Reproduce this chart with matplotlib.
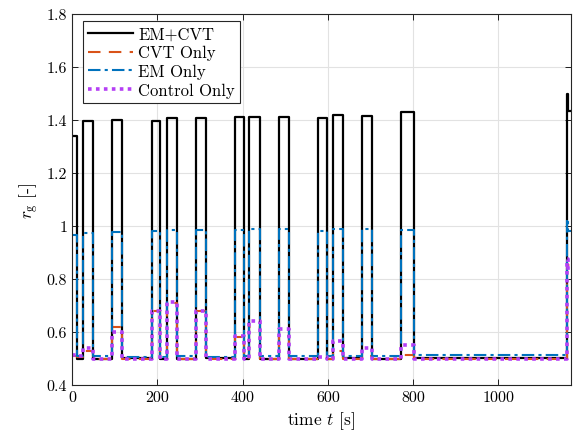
import numpy as np
import matplotlib
matplotlib.use("Agg")
import matplotlib.pyplot as plt

# ---- data ----
pulse_start = [0, 26, 94, 187, 222, 290, 382, 416, 485, 577, 612, 681, 772, 1160]
pulse_end   = [11.5, 49, 117, 207, 245, 313, 403, 440, 508, 598, 635, 704, 801, 1172]

em_cvt_high   = [1.34, 1.397, 1.40, 1.395, 1.406, 1.409, 1.413, 1.41, 1.413, 1.409, 1.418, 1.415, 1.431, 1.435]
em_only_high  = [0.967, 0.975, 0.977, 0.98, 0.984, 0.986, 0.985, 0.99, 0.99, 0.98, 0.987, 0.987, 0.986, 0.982]
cvt_only_high = [0.51, 0.53, 0.62, 0.68, 0.71, 0.68, 0.58, 0.62, 0.585, 0.50, 0.53, 0.51, 0.515, 0.853]
ctrl_high     = [0.513, 0.54, 0.60, 0.68, 0.714, 0.68, 0.585, 0.64, 0.61, 0.505, 0.567, 0.54, 0.55, 0.835]

# low levels in the gaps after each pulse
em_cvt_low   = [0.50, 0.50, 0.502, 0.50, 0.50, 0.502, 0.50, 0.50, 0.50, 0.50, 0.502, 0.50, 0.502]
em_only_low  = [0.51, 0.508, 0.505, 0.507, 0.51, 0.506, 0.508, 0.51, 0.508, 0.51, 0.51, 0.51, 0.512]
cvt_only_low = [0.505, 0.50, 0.498, 0.50, 0.498, 0.498, 0.50, 0.498, 0.498, 0.50, 0.50, 0.50, 0.50]
ctrl_low     = [0.51, 0.50, 0.50, 0.50, 0.50, 0.50, 0.50, 0.50, 0.50, 0.50, 0.50, 0.50, 0.50]

# overshoot at the last switching instant
spike_t = 1160
spike_dur = 3
em_cvt_spike = 1.50
em_only_spike = 1.026
ctrl_spike = 0.875


def build(high, low, spike=None):
    t, y = [], []
    for i, (s, e) in enumerate(zip(pulse_start, pulse_end)):
        if spike is not None and s == spike_t:
            t.append(s); y.append(spike)
            t.append(s + spike_dur); y.append(high[i])
        else:
            t.append(s); y.append(high[i])
        t.append(e)
        y.append(low[i] if i < len(low) else high[i])
    return np.array(t), np.array(y)


plt.rcParams['mathtext.fontset'] = 'cm'
plt.rcParams['font.family'] = 'serif'
plt.rcParams['font.serif'] = ['cmr10', 'DejaVu Serif']
plt.rcParams['axes.formatter.use_mathtext'] = True

fig = plt.figure(figsize=(5.73, 4.35), dpi=100)
ax = fig.add_axes([0.1257, 0.1126, 0.8708, 0.8529])

t1, y1 = build(em_cvt_high, em_cvt_low, em_cvt_spike)
t2, y2 = build(cvt_only_high, cvt_only_low)
t3, y3 = build(em_only_high, em_only_low, em_only_spike)
t4, y4 = build(ctrl_high, ctrl_low, ctrl_spike)

ax.plot(t1, y1, drawstyle='steps-post', color='black', lw=1.6, label='EM+CVT')
ax.plot(t2, y2, drawstyle='steps-post', color='#D95319', lw=1.5, ls=(0, (6, 4)), label='CVT Only')
ax.plot(t3, y3, drawstyle='steps-post', color='#0072BD', lw=1.5, ls=(0, (6, 2, 1.5, 2)), label='EM Only')
ax.plot(t4, y4, drawstyle='steps-post', color='#B53FF5', lw=2.6, ls=(0, (1, 1.2)), label='Control Only')

ax.set_xlim(0, 1170)
ax.set_ylim(0.4, 1.8)
xt = [0, 200, 400, 600, 800, 1000]
yt = [0.4, 0.6, 0.8, 1.0, 1.2, 1.4, 1.6, 1.8]
ytl = ['0.4', '0.6', '0.8', '1', '1.2', '1.4', '1.6', '1.8']
ax.set_xticks(xt)
ax.set_xticklabels([str(v) for v in xt])
ax.set_yticks(yt)
ax.set_yticklabels(ytl)
ax.tick_params(direction='in', top=True, right=True, labelsize=11.5, length=4, width=0.6)
ax.grid(True, color='#e2e2e2', lw=0.8)
ax.set_axisbelow(True)
for sp in ax.spines.values():
    sp.set_linewidth(0.8)
    sp.set_color('#262626')

ax.set_xlabel('time $t$ [s]', fontsize=12.5)
ax.set_ylabel(r'$r_\mathrm{g}$ [-]', fontsize=12.5)

leg = ax.legend(loc='upper left', fontsize=12, frameon=True, fancybox=False,
                edgecolor='#262626', framealpha=1, borderpad=0.3,
                labelspacing=0.22, handlelength=2.7, handletextpad=0.3,
                borderaxespad=0.0,
                bbox_to_anchor=(0.022, 0.981))
leg.get_frame().set_linewidth(0.8)

fig.savefig('out.png', dpi=100)
